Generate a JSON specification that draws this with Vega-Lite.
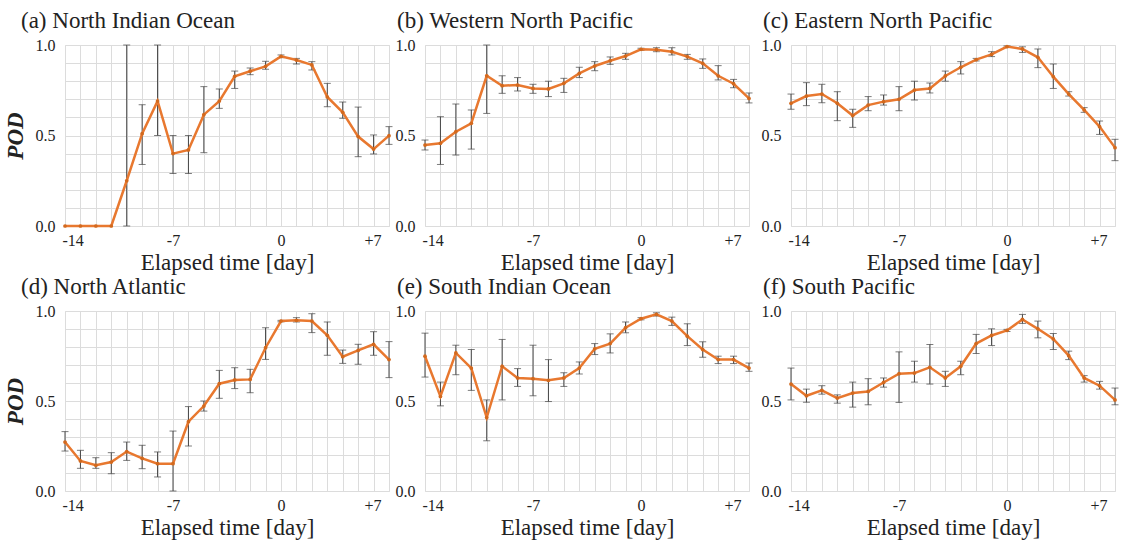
{
  "$schema": "https://vega.github.io/schema/vega-lite/v6.json",
  "padding": {"left": 3, "top": 9, "right": 5, "bottom": 5},
  "config": {
    "font": "Liberation Serif",
    "view": {"stroke": "#dcdcdc"},
    "axis": {"labelFont": "Liberation Serif", "titleFont": "Liberation Serif", "labelFontSize": 16, "labelColor": "#222", "titleColor": "#222", "titleFontSize": 23, "titleFontWeight": "normal", "gridColor": "#dcdcdc", "gridWidth": 1, "ticks": false, "domain": false, "labelOverlap": false, "labelBound": false},
    "axisX": {"labelPadding": 6, "titlePadding": 3},
    "axisY": {"labelPadding": 10, "titlePadding": 8},
    "title": {"font": "Liberation Serif", "fontSize": 23, "fontWeight": "normal", "color": "#222", "anchor": "start", "frame": "group"}
  },
  "datasets": {
    "pod": [
      {"panel": "a", "day": -14, "pod": 0, "lo": null, "hi": null},
      {"panel": "a", "day": -13, "pod": 0, "lo": null, "hi": null},
      {"panel": "a", "day": -12, "pod": 0, "lo": null, "hi": null},
      {"panel": "a", "day": -11, "pod": 0, "lo": null, "hi": null},
      {"panel": "a", "day": -10, "pod": 0.25, "lo": 0, "hi": 1},
      {"panel": "a", "day": -9, "pod": 0.51, "lo": 0.34, "hi": 0.67},
      {"panel": "a", "day": -8, "pod": 0.69, "lo": 0.5, "hi": 1},
      {"panel": "a", "day": -7, "pod": 0.4, "lo": 0.29, "hi": 0.5},
      {"panel": "a", "day": -6, "pod": 0.42, "lo": 0.29, "hi": 0.5},
      {"panel": "a", "day": -5, "pod": 0.615, "lo": 0.405, "hi": 0.77},
      {"panel": "a", "day": -4, "pod": 0.69, "lo": 0.65, "hi": 0.757},
      {"panel": "a", "day": -3, "pod": 0.827, "lo": 0.76, "hi": 0.856},
      {"panel": "a", "day": -2, "pod": 0.855, "lo": 0.836, "hi": 0.873},
      {"panel": "a", "day": -1, "pod": 0.882, "lo": 0.866, "hi": 0.91},
      {"panel": "a", "day": 0, "pod": 0.937, "lo": 0.93, "hi": 0.945},
      {"panel": "a", "day": 1, "pod": 0.917, "lo": 0.895, "hi": 0.926},
      {"panel": "a", "day": 2, "pod": 0.89, "lo": 0.862, "hi": 0.908},
      {"panel": "a", "day": 3, "pod": 0.713, "lo": 0.659, "hi": 0.788},
      {"panel": "a", "day": 4, "pod": 0.628, "lo": 0.595, "hi": 0.685},
      {"panel": "a", "day": 5, "pod": 0.494, "lo": 0.383, "hi": 0.657},
      {"panel": "a", "day": 6, "pod": 0.425, "lo": 0.398, "hi": 0.503},
      {"panel": "a", "day": 7, "pod": 0.499, "lo": 0.451, "hi": 0.549},

      {"panel": "b", "day": -14, "pod": 0.447, "lo": 0.42, "hi": 0.475},
      {"panel": "b", "day": -13, "pod": 0.457, "lo": 0.34, "hi": 0.604},
      {"panel": "b", "day": -12, "pod": 0.521, "lo": 0.392, "hi": 0.674},
      {"panel": "b", "day": -11, "pod": 0.567, "lo": 0.425, "hi": 0.641},
      {"panel": "b", "day": -10, "pod": 0.83, "lo": 0.622, "hi": 1},
      {"panel": "b", "day": -9, "pod": 0.775, "lo": 0.733, "hi": 0.83},
      {"panel": "b", "day": -8, "pod": 0.779, "lo": 0.746, "hi": 0.82},
      {"panel": "b", "day": -7, "pod": 0.76, "lo": 0.733, "hi": 0.783},
      {"panel": "b", "day": -6, "pod": 0.757, "lo": 0.715, "hi": 0.8},
      {"panel": "b", "day": -5, "pod": 0.788, "lo": 0.738, "hi": 0.816},
      {"panel": "b", "day": -4, "pod": 0.843, "lo": 0.82, "hi": 0.877},
      {"panel": "b", "day": -3, "pod": 0.884, "lo": 0.858, "hi": 0.908},
      {"panel": "b", "day": -2, "pod": 0.913, "lo": 0.893, "hi": 0.934},
      {"panel": "b", "day": -1, "pod": 0.939, "lo": 0.921, "hi": 0.954},
      {"panel": "b", "day": 0, "pod": 0.976, "lo": 0.97, "hi": 0.982},
      {"panel": "b", "day": 1, "pod": 0.974, "lo": 0.963, "hi": 0.985},
      {"panel": "b", "day": 2, "pod": 0.963, "lo": 0.945, "hi": 0.985},
      {"panel": "b", "day": 3, "pod": 0.936, "lo": 0.921, "hi": 0.948},
      {"panel": "b", "day": 4, "pod": 0.899, "lo": 0.871, "hi": 0.923},
      {"panel": "b", "day": 5, "pod": 0.83, "lo": 0.807, "hi": 0.886},
      {"panel": "b", "day": 6, "pod": 0.786, "lo": 0.764, "hi": 0.81},
      {"panel": "b", "day": 7, "pod": 0.705, "lo": 0.68, "hi": 0.735},

      {"panel": "c", "day": -14, "pod": 0.678, "lo": 0.645, "hi": 0.729},
      {"panel": "c", "day": -13, "pod": 0.718, "lo": 0.665, "hi": 0.792},
      {"panel": "c", "day": -12, "pod": 0.729, "lo": 0.681, "hi": 0.783},
      {"panel": "c", "day": -11, "pod": 0.678, "lo": 0.582, "hi": 0.742},
      {"panel": "c", "day": -10, "pod": 0.61, "lo": 0.545, "hi": 0.645},
      {"panel": "c", "day": -9, "pod": 0.668, "lo": 0.637, "hi": 0.715},
      {"panel": "c", "day": -8, "pod": 0.687, "lo": 0.668, "hi": 0.724},
      {"panel": "c", "day": -7, "pod": 0.7, "lo": 0.637, "hi": 0.77},
      {"panel": "c", "day": -6, "pod": 0.751, "lo": 0.696, "hi": 0.8},
      {"panel": "c", "day": -5, "pod": 0.76, "lo": 0.735, "hi": 0.79},
      {"panel": "c", "day": -4, "pod": 0.829, "lo": 0.8, "hi": 0.856},
      {"panel": "c", "day": -3, "pod": 0.877, "lo": 0.84, "hi": 0.908},
      {"panel": "c", "day": -2, "pod": 0.919, "lo": 0.912, "hi": 0.926},
      {"panel": "c", "day": -1, "pod": 0.948, "lo": 0.936, "hi": 0.963},
      {"panel": "c", "day": 0, "pod": 0.991, "lo": 0.987, "hi": 0.995},
      {"panel": "c", "day": 1, "pod": 0.978, "lo": 0.959, "hi": 0.99},
      {"panel": "c", "day": 2, "pod": 0.932, "lo": 0.875, "hi": 0.978},
      {"panel": "c", "day": 3, "pod": 0.825, "lo": 0.76, "hi": 0.895},
      {"panel": "c", "day": 4, "pod": 0.729, "lo": 0.718, "hi": 0.742},
      {"panel": "c", "day": 5, "pod": 0.641, "lo": 0.628, "hi": 0.654},
      {"panel": "c", "day": 6, "pod": 0.549, "lo": 0.506, "hi": 0.58},
      {"panel": "c", "day": 7, "pod": 0.433, "lo": 0.361, "hi": 0.479},

      {"panel": "d", "day": -14, "pod": 0.272, "lo": 0.222, "hi": 0.33},
      {"panel": "d", "day": -13, "pod": 0.167, "lo": 0.126, "hi": 0.226},
      {"panel": "d", "day": -12, "pod": 0.143, "lo": 0.126, "hi": 0.185},
      {"panel": "d", "day": -11, "pod": 0.161, "lo": 0.096, "hi": 0.213},
      {"panel": "d", "day": -10, "pod": 0.219, "lo": 0.17, "hi": 0.272},
      {"panel": "d", "day": -9, "pod": 0.181, "lo": 0.124, "hi": 0.254},
      {"panel": "d", "day": -8, "pod": 0.152, "lo": 0.078, "hi": 0.217},
      {"panel": "d", "day": -7, "pod": 0.152, "lo": 0, "hi": 0.333},
      {"panel": "d", "day": -6, "pod": 0.385, "lo": 0.25, "hi": 0.469},
      {"panel": "d", "day": -5, "pod": 0.472, "lo": 0.444, "hi": 0.5},
      {"panel": "d", "day": -4, "pod": 0.596, "lo": 0.515, "hi": 0.67},
      {"panel": "d", "day": -3, "pod": 0.617, "lo": 0.569, "hi": 0.685},
      {"panel": "d", "day": -2, "pod": 0.62, "lo": 0.546, "hi": 0.676},
      {"panel": "d", "day": -1, "pod": 0.796, "lo": 0.731, "hi": 0.907},
      {"panel": "d", "day": 0, "pod": 0.944, "lo": 0.94, "hi": 0.948},
      {"panel": "d", "day": 1, "pod": 0.948, "lo": 0.939, "hi": 0.963},
      {"panel": "d", "day": 2, "pod": 0.944, "lo": 0.88, "hi": 0.985},
      {"panel": "d", "day": 3, "pod": 0.865, "lo": 0.754, "hi": 0.939},
      {"panel": "d", "day": 4, "pod": 0.746, "lo": 0.709, "hi": 0.783},
      {"panel": "d", "day": 5, "pod": 0.781, "lo": 0.704, "hi": 0.815},
      {"panel": "d", "day": 6, "pod": 0.815, "lo": 0.754, "hi": 0.885},
      {"panel": "d", "day": 7, "pod": 0.73, "lo": 0.63, "hi": 0.83},

      {"panel": "e", "day": -14, "pod": 0.749, "lo": 0.633, "hi": 0.877},
      {"panel": "e", "day": -13, "pod": 0.525, "lo": 0.473, "hi": 0.605},
      {"panel": "e", "day": -12, "pod": 0.767, "lo": 0.646, "hi": 0.81},
      {"panel": "e", "day": -11, "pod": 0.683, "lo": 0.559, "hi": 0.786},
      {"panel": "e", "day": -10, "pod": 0.408, "lo": 0.279, "hi": 0.506},
      {"panel": "e", "day": -9, "pod": 0.693, "lo": 0.506, "hi": 0.842},
      {"panel": "e", "day": -8, "pod": 0.628, "lo": 0.581, "hi": 0.68},
      {"panel": "e", "day": -7, "pod": 0.624, "lo": 0.529, "hi": 0.81},
      {"panel": "e", "day": -6, "pod": 0.615, "lo": 0.497, "hi": 0.73},
      {"panel": "e", "day": -5, "pod": 0.628, "lo": 0.581, "hi": 0.657},
      {"panel": "e", "day": -4, "pod": 0.683, "lo": 0.65, "hi": 0.717},
      {"panel": "e", "day": -3, "pod": 0.79, "lo": 0.758, "hi": 0.819},
      {"panel": "e", "day": -2, "pod": 0.819, "lo": 0.767, "hi": 0.873},
      {"panel": "e", "day": -1, "pod": 0.907, "lo": 0.879, "hi": 0.939},
      {"panel": "e", "day": 0, "pod": 0.957, "lo": 0.951, "hi": 0.963},
      {"panel": "e", "day": 1, "pod": 0.981, "lo": 0.972, "hi": 0.99},
      {"panel": "e", "day": 2, "pod": 0.944, "lo": 0.92, "hi": 0.966},
      {"panel": "e", "day": 3, "pod": 0.86, "lo": 0.808, "hi": 0.929},
      {"panel": "e", "day": 4, "pod": 0.786, "lo": 0.743, "hi": 0.829},
      {"panel": "e", "day": 5, "pod": 0.73, "lo": 0.708, "hi": 0.749},
      {"panel": "e", "day": 6, "pod": 0.73, "lo": 0.708, "hi": 0.749},
      {"panel": "e", "day": 7, "pod": 0.683, "lo": 0.665, "hi": 0.711},

      {"panel": "f", "day": -14, "pod": 0.594, "lo": 0.506, "hi": 0.683},
      {"panel": "f", "day": -13, "pod": 0.529, "lo": 0.493, "hi": 0.566},
      {"panel": "f", "day": -12, "pod": 0.559, "lo": 0.538, "hi": 0.585},
      {"panel": "f", "day": -11, "pod": 0.516, "lo": 0.488, "hi": 0.534},
      {"panel": "f", "day": -10, "pod": 0.544, "lo": 0.466, "hi": 0.605},
      {"panel": "f", "day": -9, "pod": 0.553, "lo": 0.479, "hi": 0.624},
      {"panel": "f", "day": -8, "pod": 0.603, "lo": 0.577, "hi": 0.628},
      {"panel": "f", "day": -7, "pod": 0.652, "lo": 0.492, "hi": 0.773},
      {"panel": "f", "day": -6, "pod": 0.655, "lo": 0.605, "hi": 0.721},
      {"panel": "f", "day": -5, "pod": 0.687, "lo": 0.594, "hi": 0.814},
      {"panel": "f", "day": -4, "pod": 0.628, "lo": 0.581, "hi": 0.665},
      {"panel": "f", "day": -3, "pod": 0.693, "lo": 0.646, "hi": 0.721},
      {"panel": "f", "day": -2, "pod": 0.819, "lo": 0.764, "hi": 0.87},
      {"panel": "f", "day": -1, "pod": 0.864, "lo": 0.808, "hi": 0.901},
      {"panel": "f", "day": 0, "pod": 0.892, "lo": 0.886, "hi": 0.898},
      {"panel": "f", "day": 1, "pod": 0.953, "lo": 0.931, "hi": 0.981},
      {"panel": "f", "day": 2, "pod": 0.901, "lo": 0.851, "hi": 0.944},
      {"panel": "f", "day": 3, "pod": 0.845, "lo": 0.786, "hi": 0.875},
      {"panel": "f", "day": 4, "pod": 0.752, "lo": 0.73, "hi": 0.777},
      {"panel": "f", "day": 5, "pod": 0.628, "lo": 0.605, "hi": 0.641},
      {"panel": "f", "day": 6, "pod": 0.585, "lo": 0.566, "hi": 0.609},
      {"panel": "f", "day": 7, "pod": 0.506, "lo": 0.479, "hi": 0.572}
    ]
  },
  "data": {"name": "pod"},
  "bounds": "full",
  "spacing": 0,
  "vconcat": [
    {
      "bounds": "flush",
      "spacing": 36,
      "hconcat": [
        {
          "width": 324, "height": 181,
          "title": {"text": "(a) North Indian Ocean", "dx": -44},
          "transform": [{"filter": "datum.panel == 'a'"}],
          "encoding": {
            "x": {"field": "day", "type": "quantitative", "scale": {"domain": [-14, 7], "nice": false, "zero": false}, "axis": {"values": [-14,-13,-12,-11,-10,-9,-8,-7,-6,-5,-4,-3,-2,-1,0,1,2,3,4,5,6,7], "labelExpr": "datum.value == 7 ? '+7' : (datum.value == -14 || datum.value == -7 || datum.value == 0 ? toString(datum.value) : '')", "labelOffset": {"condition": [{"test": "datum.value == 7", "value": -8}, {"test": "datum.value == -14", "value": -3}], "value": 0}, "title": "Elapsed time [day]"}},
            "y": {"field": "pod", "type": "quantitative", "scale": {"domain": [0, 1], "nice": false}, "axis": {"values": [0,0.1,0.2,0.3,0.4,0.5,0.6,0.7,0.8,0.9,1], "labelExpr": "datum.value == 0 || datum.value == 0.5 || datum.value == 1 ? format(datum.value, '.1f') : ''", "title": "POD", "titleFontStyle": "italic", "titleFontWeight": "bold"}}
          },
          "layer": [
            {"mark": {"type": "errorbar", "ticks": {"size": 7}, "color": "#444", "thickness": 1}, "encoding": {"y": {"field": "lo", "type": "quantitative"}, "y2": {"field": "hi"}}},
            {"mark": {"type": "line", "color": "#E8782F", "strokeWidth": 2.5}},
            {"mark": {"type": "point", "filled": true, "color": "#D2691E", "size": 14, "opacity": 1}}
          ]
        },
        {
          "bounds": "flush",
          "spacing": 42,
          "hconcat": [
            {
              "width": 324, "height": 181,
              "title": {"text": "(b) Western North Pacific", "dx": -28},
              "transform": [{"filter": "datum.panel == 'b'"}],
              "encoding": {
                "x": {"field": "day", "type": "quantitative", "scale": {"domain": [-14, 7], "nice": false, "zero": false}, "axis": {"values": [-14,-13,-12,-11,-10,-9,-8,-7,-6,-5,-4,-3,-2,-1,0,1,2,3,4,5,6,7], "labelExpr": "datum.value == 7 ? '+7' : (datum.value == -14 || datum.value == -7 || datum.value == 0 ? toString(datum.value) : '')", "labelOffset": {"condition": [{"test": "datum.value == 7", "value": -8}, {"test": "datum.value == -14", "value": -3}], "value": 0}, "title": "Elapsed time [day]"}},
                "y": {"field": "pod", "type": "quantitative", "scale": {"domain": [0, 1], "nice": false}, "axis": {"values": [0,0.1,0.2,0.3,0.4,0.5,0.6,0.7,0.8,0.9,1], "labelExpr": "datum.value == 0 || datum.value == 0.5 || datum.value == 1 ? format(datum.value, '.1f') : ''", "title": null}}
              },
              "layer": [
                {"mark": {"type": "errorbar", "ticks": {"size": 7}, "color": "#444", "thickness": 1}, "encoding": {"y": {"field": "lo", "type": "quantitative"}, "y2": {"field": "hi"}}},
                {"mark": {"type": "line", "color": "#E8782F", "strokeWidth": 2.5}},
                {"mark": {"type": "point", "filled": true, "color": "#D2691E", "size": 14, "opacity": 1}}
              ]
            },
            {
              "width": 324, "height": 181,
              "title": {"text": "(c) Eastern North Pacific", "dx": -28},
              "transform": [{"filter": "datum.panel == 'c'"}],
              "encoding": {
                "x": {"field": "day", "type": "quantitative", "scale": {"domain": [-14, 7], "nice": false, "zero": false}, "axis": {"values": [-14,-13,-12,-11,-10,-9,-8,-7,-6,-5,-4,-3,-2,-1,0,1,2,3,4,5,6,7], "labelExpr": "datum.value == 7 ? '+7' : (datum.value == -14 || datum.value == -7 || datum.value == 0 ? toString(datum.value) : '')", "labelOffset": {"condition": [{"test": "datum.value == 7", "value": -8}, {"test": "datum.value == -14", "value": -3}], "value": 0}, "title": "Elapsed time [day]"}},
                "y": {"field": "pod", "type": "quantitative", "scale": {"domain": [0, 1], "nice": false}, "axis": {"values": [0,0.1,0.2,0.3,0.4,0.5,0.6,0.7,0.8,0.9,1], "labelExpr": "datum.value == 0 || datum.value == 0.5 || datum.value == 1 ? format(datum.value, '.1f') : ''", "title": null}}
              },
              "layer": [
                {"mark": {"type": "errorbar", "ticks": {"size": 7}, "color": "#444", "thickness": 1}, "encoding": {"y": {"field": "lo", "type": "quantitative"}, "y2": {"field": "hi"}}},
                {"mark": {"type": "line", "color": "#E8782F", "strokeWidth": 2.5}},
                {"mark": {"type": "point", "filled": true, "color": "#D2691E", "size": 14, "opacity": 1}}
              ]
            }
          ]
        }
      ]
    },
    {
      "bounds": "flush",
      "spacing": 36,
      "hconcat": [
        {
          "width": 324, "height": 180,
          "title": {"text": "(d) North Atlantic", "dx": -44},
          "transform": [{"filter": "datum.panel == 'd'"}],
          "encoding": {
            "x": {"field": "day", "type": "quantitative", "scale": {"domain": [-14, 7], "nice": false, "zero": false}, "axis": {"values": [-14,-13,-12,-11,-10,-9,-8,-7,-6,-5,-4,-3,-2,-1,0,1,2,3,4,5,6,7], "labelExpr": "datum.value == 7 ? '+7' : (datum.value == -14 || datum.value == -7 || datum.value == 0 ? toString(datum.value) : '')", "labelOffset": {"condition": [{"test": "datum.value == 7", "value": -8}, {"test": "datum.value == -14", "value": -3}], "value": 0}, "title": "Elapsed time [day]"}},
            "y": {"field": "pod", "type": "quantitative", "scale": {"domain": [0, 1], "nice": false}, "axis": {"values": [0,0.1,0.2,0.3,0.4,0.5,0.6,0.7,0.8,0.9,1], "labelExpr": "datum.value == 0 || datum.value == 0.5 || datum.value == 1 ? format(datum.value, '.1f') : ''", "title": "POD", "titleFontStyle": "italic", "titleFontWeight": "bold"}}
          },
          "layer": [
            {"mark": {"type": "errorbar", "ticks": {"size": 7}, "color": "#444", "thickness": 1}, "encoding": {"y": {"field": "lo", "type": "quantitative"}, "y2": {"field": "hi"}}},
            {"mark": {"type": "line", "color": "#E8782F", "strokeWidth": 2.5}},
            {"mark": {"type": "point", "filled": true, "color": "#D2691E", "size": 14, "opacity": 1}}
          ]
        },
        {
          "bounds": "flush",
          "spacing": 42,
          "hconcat": [
            {
              "width": 324, "height": 180,
              "title": {"text": "(e) South Indian Ocean", "dx": -28},
              "transform": [{"filter": "datum.panel == 'e'"}],
              "encoding": {
                "x": {"field": "day", "type": "quantitative", "scale": {"domain": [-14, 7], "nice": false, "zero": false}, "axis": {"values": [-14,-13,-12,-11,-10,-9,-8,-7,-6,-5,-4,-3,-2,-1,0,1,2,3,4,5,6,7], "labelExpr": "datum.value == 7 ? '+7' : (datum.value == -14 || datum.value == -7 || datum.value == 0 ? toString(datum.value) : '')", "labelOffset": {"condition": [{"test": "datum.value == 7", "value": -8}, {"test": "datum.value == -14", "value": -3}], "value": 0}, "title": "Elapsed time [day]"}},
                "y": {"field": "pod", "type": "quantitative", "scale": {"domain": [0, 1], "nice": false}, "axis": {"values": [0,0.1,0.2,0.3,0.4,0.5,0.6,0.7,0.8,0.9,1], "labelExpr": "datum.value == 0 || datum.value == 0.5 || datum.value == 1 ? format(datum.value, '.1f') : ''", "title": null}}
              },
              "layer": [
                {"mark": {"type": "errorbar", "ticks": {"size": 7}, "color": "#444", "thickness": 1}, "encoding": {"y": {"field": "lo", "type": "quantitative"}, "y2": {"field": "hi"}}},
                {"mark": {"type": "line", "color": "#E8782F", "strokeWidth": 2.5}},
                {"mark": {"type": "point", "filled": true, "color": "#D2691E", "size": 14, "opacity": 1}}
              ]
            },
            {
              "width": 324, "height": 180,
              "title": {"text": "(f) South Pacific", "dx": -28},
              "transform": [{"filter": "datum.panel == 'f'"}],
              "encoding": {
                "x": {"field": "day", "type": "quantitative", "scale": {"domain": [-14, 7], "nice": false, "zero": false}, "axis": {"values": [-14,-13,-12,-11,-10,-9,-8,-7,-6,-5,-4,-3,-2,-1,0,1,2,3,4,5,6,7], "labelExpr": "datum.value == 7 ? '+7' : (datum.value == -14 || datum.value == -7 || datum.value == 0 ? toString(datum.value) : '')", "labelOffset": {"condition": [{"test": "datum.value == 7", "value": -8}, {"test": "datum.value == -14", "value": -3}], "value": 0}, "title": "Elapsed time [day]"}},
                "y": {"field": "pod", "type": "quantitative", "scale": {"domain": [0, 1], "nice": false}, "axis": {"values": [0,0.1,0.2,0.3,0.4,0.5,0.6,0.7,0.8,0.9,1], "labelExpr": "datum.value == 0 || datum.value == 0.5 || datum.value == 1 ? format(datum.value, '.1f') : ''", "title": null}}
              },
              "layer": [
                {"mark": {"type": "errorbar", "ticks": {"size": 7}, "color": "#444", "thickness": 1}, "encoding": {"y": {"field": "lo", "type": "quantitative"}, "y2": {"field": "hi"}}},
                {"mark": {"type": "line", "color": "#E8782F", "strokeWidth": 2.5}},
                {"mark": {"type": "point", "filled": true, "color": "#D2691E", "size": 14, "opacity": 1}}
              ]
            }
          ]
        }
      ]
    }
  ]
}
